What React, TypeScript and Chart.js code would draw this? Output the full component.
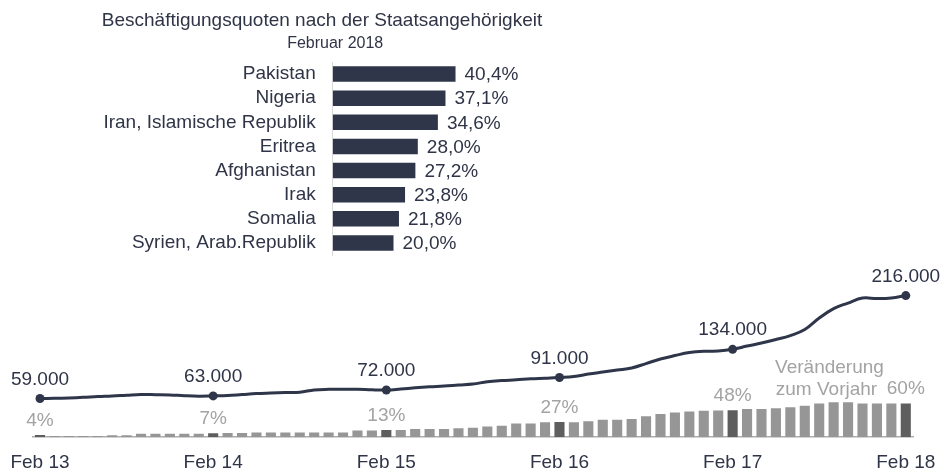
import React, { useEffect, useRef } from "react";
import { Chart, registerables } from "chart.js";

Chart.register(...registerables);

const FONT = '"Liberation Sans", Arial, sans-serif';
const FS = 19;
const NAVY = "#2F3649";
const TEXT = "#2F3547";
const GREY_TEXT = "#A3A3A3";
const GREY_BAR = "#969696";
const DARK_BAR = "#5E5E5E";

const TITLE = "Beschäftigungsquoten nach der Staatsangehörigkeit";
const SUBTITLE = "Februar 2018";
const NOTE_LINE1 = "Veränderung";
const NOTE_LINE2 = "zum Vorjahr";

const countries = [
  "Pakistan",
  "Nigeria",
  "Iran, Islamische Republik",
  "Eritrea",
  "Afghanistan",
  "Irak",
  "Somalia",
  "Syrien, Arab.Republik",
];
const quotas = [40.4, 37.1, 34.6, 28.0, 27.2, 23.8, 21.8, 20.0];

const months = [
  "Feb 13", "Mär 13", "Apr 13", "Mai 13", "Jun 13", "Jul 13", "Aug 13", "Sep 13", "Okt 13", "Nov 13", "Dez 13",
  "Jan 14", "Feb 14", "Mär 14", "Apr 14", "Mai 14", "Jun 14", "Jul 14", "Aug 14", "Sep 14", "Okt 14", "Nov 14", "Dez 14",
  "Jan 15", "Feb 15", "Mär 15", "Apr 15", "Mai 15", "Jun 15", "Jul 15", "Aug 15", "Sep 15", "Okt 15", "Nov 15", "Dez 15",
  "Jan 16", "Feb 16", "Mär 16", "Apr 16", "Mai 16", "Jun 16", "Jul 16", "Aug 16", "Sep 16", "Okt 16", "Nov 16", "Dez 16",
  "Jan 17", "Feb 17", "Mär 17", "Apr 17", "Mai 17", "Jun 17", "Jul 17", "Aug 17", "Sep 17", "Okt 17", "Nov 17", "Dez 17",
  "Jan 18", "Feb 18",
];

const employed = [
  59000, 59300, 59900, 60800, 62000, 62800, 64000, 65100, 64900, 64500, 63300, 62600,
  63000, 63600, 65100, 66600, 67400, 68100, 68600, 72000, 73000, 73200, 73200, 72300,
  72000, 73500, 75300, 76800, 78000, 79600, 81100, 84600, 86400, 87500, 89000, 89900,
  91000, 92500, 96300, 99400, 102400, 105500, 112300, 119200, 124500, 129100, 131100, 131400,
  134000, 139000, 143600, 148900, 155000, 164200, 181700, 196200, 204600, 212200, 211400, 212200,
  216000,
];

const growth = [
  4, 2, 2, 2, 2, 3.5, 3.5, 6, 6, 6, 6, 6,
  7, 7.5, 7.5, 8.5, 8.5, 8.5, 8.5, 8.5, 8.5, 8.5, 12, 12,
  13, 13, 14.5, 14.5, 14.5, 16, 17, 19, 20.5, 24.5, 24.5, 26.5,
  27, 26.5, 28.5, 31, 31, 32.5, 37, 41, 44, 45.5, 47, 47.5,
  48, 50, 50, 51.5, 53, 56, 60, 62, 62, 60, 60, 60,
  60,
];

const isFeb = (m: string) => m.startsWith("Feb");
const fmtThousands = (v: number) => String(v).replace(/\B(?=(\d{3})+(?!\d))/g, ".");
const fmtPct1 = (v: number) => v.toFixed(1).replace(".", ",") + "%";

const topLabels = {
  id: "topLabels",
  afterDatasetsDraw(chart: any) {
    const ctx = chart.ctx;
    const meta = chart.getDatasetMeta(0);
    ctx.save();
    ctx.fillStyle = TEXT;
    ctx.font = `${FS}px ${FONT}`;
    ctx.textAlign = "left";
    ctx.textBaseline = "middle";
    meta.data.forEach((bar: any, i: number) => {
      ctx.fillText(fmtPct1(quotas[i]), bar.x + 9, bar.y + 1);
    });
    const left = chart.chartArea.left;
    ctx.textAlign = "center";
    ctx.textBaseline = "alphabetic";
    ctx.font = `${FS}px ${FONT}`;
    ctx.fillText(TITLE, left - 10.7, 26);
    ctx.font = `16px ${FONT}`;
    ctx.fillText(SUBTITLE, left + 2.5, 47.7);
    ctx.restore();
  },
};

const bottomLabels = {
  id: "bottomLabels",
  afterDatasetsDraw(chart: any) {
    const ctx = chart.ctx;
    const lineMeta = chart.getDatasetMeta(0);
    const barMeta = chart.getDatasetMeta(1);
    ctx.save();
    ctx.font = `${FS}px ${FONT}`;
    ctx.textAlign = "center";
    ctx.textBaseline = "alphabetic";
    months.forEach((m, i) => {
      if (!isFeb(m)) return;
      const p = lineMeta.data[i];
      ctx.fillStyle = TEXT;
      ctx.fillText(fmtThousands(employed[i]), p.x, p.y - 14);
      const b = barMeta.data[i];
      ctx.fillStyle = GREY_TEXT;
      ctx.fillText(Math.round(growth[i]) + "%", b.x, b.y - 9);
    });
    const last = barMeta.data[barMeta.data.length - 1];
    ctx.textAlign = "left";
    ctx.fillStyle = GREY_TEXT;
    ctx.fillText(NOTE_LINE1, last.x - 130.7, last.y - 30.1);
    ctx.fillText(NOTE_LINE2, last.x - 130, last.y - 8.7);
    ctx.restore();
  },
};

export default function App() {
  const topRef = useRef<HTMLCanvasElement>(null);
  const botRef = useRef<HTMLCanvasElement>(null);

  useEffect(() => {
    const topChart = new Chart(topRef.current as HTMLCanvasElement, {
      type: "bar",
      data: {
        labels: countries,
        datasets: [
          {
            data: quotas,
            backgroundColor: NAVY,
            barPercentage: 0.64,
            categoryPercentage: 1,
          },
        ],
      },
      options: {
        indexAxis: "y",
        animation: false,
        responsive: true,
        maintainAspectRatio: false,
        layout: { padding: { top: 62, bottom: 7, left: 0, right: 941 - 332.7 - 182.4 } },
        plugins: { legend: { display: false }, tooltip: { enabled: false } },
        scales: {
          x: { display: false, min: 0, max: 60 },
          y: {
            grid: { display: false, drawTicks: false },
            border: { display: true, color: "#D9D9D9", width: 1 },
            ticks: { autoSkip: false, color: TEXT, font: { family: FONT, size: FS }, padding: 17 },
            afterFit: (s: any) => {
              s.width = 332.7;
              s.paddingTop = 0;
              s.paddingBottom = 0;
            },
          },
        },
      } as any,
      plugins: [topLabels],
    });

    const botChart = new Chart(botRef.current as HTMLCanvasElement, {
      type: "bar",
      data: {
        labels: months,
        datasets: [
          {
            type: "line",
            data: employed,
            yAxisID: "y",
            borderColor: NAVY,
            borderWidth: 3,
            tension: 0.4,
            pointRadius: months.map((m) => (isFeb(m) ? 4.5 : 0)),
            pointBackgroundColor: NAVY,
            pointBorderWidth: 0,
            order: 0,
          } as any,
          {
            type: "bar",
            data: growth,
            yAxisID: "y1",
            backgroundColor: months.map((m) => (isFeb(m) ? DARK_BAR : GREY_BAR)),
            barPercentage: 0.7,
            categoryPercentage: 1,
            order: 1,
          },
        ],
      },
      options: {
        animation: false,
        responsive: true,
        maintainAspectRatio: false,
        layout: { padding: { top: 10, bottom: 0, left: 32.8, right: 28 } },
        plugins: { legend: { display: false }, tooltip: { enabled: false } },
        scales: {
          x: {
            grid: { display: false, drawTicks: false },
            border: { display: true, color: "#ADADAD", width: 1.5 },
            ticks: {
              autoSkip: false,
              maxRotation: 0,
              minRotation: 0,
              padding: 14,
              color: TEXT,
              font: { family: FONT, size: FS },
              callback: (_v: any, i: number) => (isFeb(months[i]) ? months[i] : ""),
            },
            afterFit: (s: any) => {
              s.paddingLeft = 0;
              s.paddingRight = 0;
              s.paddingTop = 0;
              s.paddingBottom = 0;
            },
          },
          y: { display: false, min: 0, max: 255000 },
          y1: { display: false, min: 0, max: 297 },
        },
      } as any,
      plugins: [bottomLabels],
    });

    return () => {
      topChart.destroy();
      botChart.destroy();
    };
  }, []);

  return (
    <div
      style={{
        position: "fixed",
        left: 0,
        top: 0,
        width: 941,
        height: 471,
        overflow: "hidden",
        background: "#ffffff",
      }}
    >
      <div style={{ position: "absolute", left: 0, top: 0, width: 941, height: 262 }}>
        <canvas ref={topRef} />
      </div>
      <div style={{ position: "absolute", left: 0, top: 260, width: 941, height: 228 }}>
        <canvas ref={botRef} />
      </div>
    </div>
  );
}
